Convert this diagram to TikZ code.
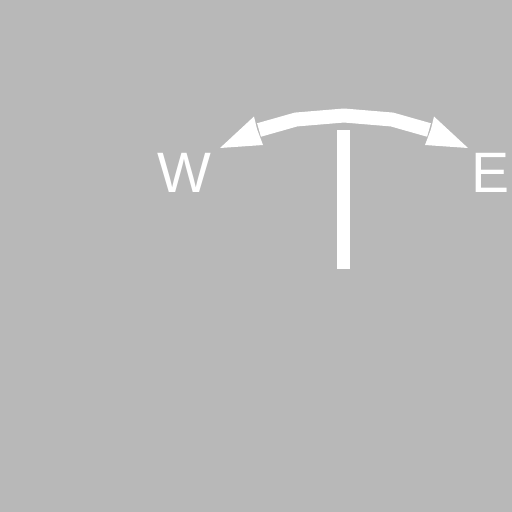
\documentclass[tikz,border=0pt]{standalone}
\usepackage{fontspec}
\setmainfont{Liberation Sans}
\begin{document}
\begin{tikzpicture}[x=1pt,y=-1pt,
  bg/.style={fill=bggray,draw=none},
  white shaft/.style={draw=white,line width=14pt,line join=round},
  white head/.style={fill=white,draw=none},
  dirlabel/.style={text=white,font=\fontsize{57}{57}\selectfont,inner sep=0pt,anchor=base}]
\definecolor{bggray}{RGB}{184,184,184}
\fill[bg] (0,0) rectangle (512,512);
\useasboundingbox (0,0) rectangle (512,512);
% vertical bar
\fill[white] (337,130) rectangle (350,269);
% arc shaft
\coordinate (wbase) at (259,130);
\coordinate (ebase) at (429,130);
\draw[white shaft] (wbase) -- (296,119.5) -- (344,115.5) -- (392,119.5) -- (ebase);
% arrow heads
\coordinate (wtip) at (220,148);
\coordinate (etip) at (468,148);
\fill[white head] (wtip) -- (254,116.5) -- (257,129) -- (263,145) -- cycle;
\fill[white head] (etip) -- (434,116.5) -- (431,129) -- (425,145) -- cycle;
% labels
\node[dirlabel] (w) at (184.5,192) {W};
\node[dirlabel] (e) at (491,192) {E};
\end{tikzpicture}
\end{document}
